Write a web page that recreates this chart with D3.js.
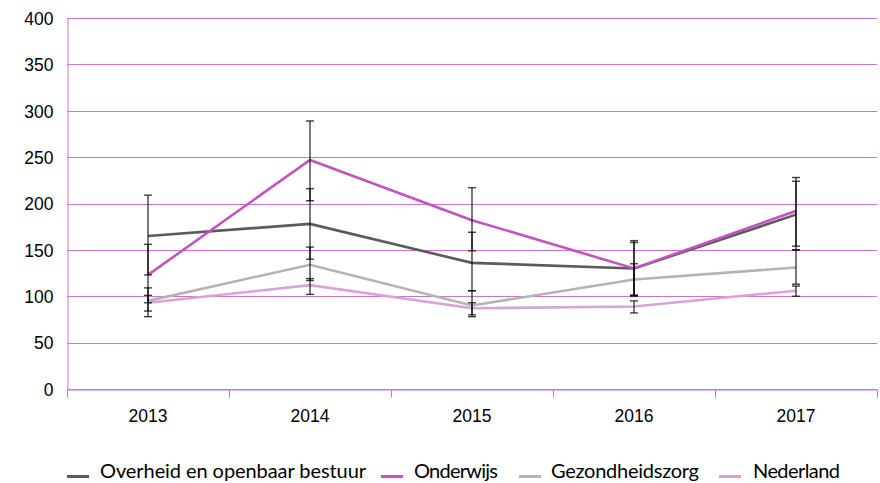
<!DOCTYPE html>
<html>
<head>
<meta charset="utf-8">
<script src="https://cdn.jsdelivr.net/npm/d3@7"></script>
<style>
  body { margin: 0; background: #fff; }
  .tick text { font-family: "Liberation Sans", Arial, sans-serif; font-size: 17.5px; fill: #000; }
  .legend text { font-family: Lato, "Open Sans", sans-serif; font-size: 20px; fill: #000; }
</style>
</head>
<body>
<script>
// data
var years = ["2013", "2014", "2015", "2016", "2017"];
var seriesNames = ["Overheid en openbaar bestuur", "Onderwijs", "Gezondheidszorg", "Nederland"];
var seriesColors = ["#5b5b5b", "#c452c0", "#b4b4b4", "#d9a3d7"];

var overheid = [165, 178, 136, 130, 188];
var onderwijs = [123, 247, 182, 130, 192];
var gezondheidszorg = [95, 134, 90, 118, 131];
var nederland = [93, 112, 87, 89, 106];

// error bar ranges (low, high)
var overheidLow = [123, 140, 106, 100, 150];
var overheidHigh = [209, 216, 169, 160, 224];
var onderwijsLow = [93, 203, 149, 101, 154];
var onderwijsHigh = [156, 289, 217, 158, 228];
var gezondheidszorgLow = [78, 117, 78, 101, 113];
var gezondheidszorgHigh = [109, 153, 106, 135, 150];
var nederlandLow = [84, 102, 80, 82, 100];
var nederlandHigh = [101, 119, 93, 95, 111];

var yTicks = [0, 50, 100, 150, 200, 250, 300, 350, 400];

var values = [overheid, onderwijs, gezondheidszorg, nederland];
var lows = [overheidLow, onderwijsLow, gezondheidszorgLow, nederlandLow];
var highs = [overheidHigh, onderwijsHigh, gezondheidszorgHigh, nederlandHigh];

var width = 880,
    height = 483;

var x = d3.scaleBand().domain(years).range([67, 877]);
var y = d3.scaleLinear().domain([0, 400]).range([389, 18]);

var svg = d3.select("body").append("svg")
    .attr("width", width)
    .attr("height", height);

var gridColor = "#cf72cc";

// horizontal grid lines
svg.append("g")
    .selectAll("line")
    .data(yTicks)
    .enter()
    .append("line")
    .attr("x1", 67)
    .attr("x2", 877)
    .attr("y1", d => Math.round(y(d)) + 0.5)
    .attr("y2", d => Math.round(y(d)) + 0.5)
    .attr("stroke", gridColor)
    .attr("stroke-width", 1);

// y axis
var yAxis = svg.append("g")
    .attr("transform", "translate(67.5,0)")
    .call(d3.axisLeft(y).tickValues(yTicks).tickSize(0).tickPadding(14));
yAxis.select(".domain").attr("stroke", gridColor);
yAxis.selectAll(".tick text").attr("dy", "0.36em");

// x axis with ticks between the categories
var xAxis = svg.append("g")
    .attr("transform", "translate(0," + (Math.round(y(0)) + 0.5) + ")")
    .call(d3.axisBottom(x).tickSize(0).tickPadding(20));
xAxis.select(".domain").attr("stroke", gridColor);
xAxis.selectAll(".tick text").attr("dy", "0.71em");

var bounds = x.domain().map(d => x(d)).concat([x.range()[1]]);
xAxis.selectAll(".sep")
    .data(bounds)
    .enter()
    .append("line")
    .attr("class", "sep")
    .attr("x1", d => Math.round(d) + 0.5)
    .attr("x2", d => Math.round(d) + 0.5)
    .attr("y1", 0)
    .attr("y2", 8)
    .attr("stroke", gridColor);

var cx = d => x(d) + x.bandwidth() / 2;

var line = d3.line()
    .x((d, i) => cx(years[i]))
    .y(d => y(d));

// series lines
svg.append("g")
    .selectAll("path")
    .data(values)
    .enter()
    .append("path")
    .attr("d", line)
    .attr("fill", "none")
    .attr("stroke", (d, i) => seriesColors[i])
    .attr("stroke-width", 2.6)
    .attr("stroke-linejoin", "miter");

// error bars
var bars = [];
lows.forEach(function (low, s) {
    low.forEach(function (v, i) {
        bars.push({ year: years[i], low: v, high: highs[s][i] });
    });
});

var eb = svg.append("g")
    .selectAll("g")
    .data(bars)
    .enter()
    .append("g")
    .attr("stroke", "#000")
    .attr("stroke-opacity", 0.75)
    .attr("stroke-width", 1.4);

eb.append("line")
    .attr("x1", d => cx(d.year))
    .attr("x2", d => cx(d.year))
    .attr("y1", d => y(d.low))
    .attr("y2", d => y(d.high));

eb.append("line")
    .attr("x1", d => cx(d.year) - 4)
    .attr("x2", d => cx(d.year) + 4)
    .attr("y1", d => y(d.low))
    .attr("y2", d => y(d.low));

eb.append("line")
    .attr("x1", d => cx(d.year) - 4)
    .attr("x2", d => cx(d.year) + 4)
    .attr("y1", d => y(d.high))
    .attr("y2", d => y(d.high));

// legend
var swatchX = [67, 381, 519, 719];
var labelX = [100, 414, 551, 753];
var labelW = [266, 84, 148, 87];

var legend = svg.append("g")
    .attr("class", "legend")
    .selectAll("g")
    .data(seriesNames)
    .enter()
    .append("g");

legend.append("line")
    .attr("x1", (d, i) => swatchX[i])
    .attr("x2", (d, i) => swatchX[i] + 22)
    .attr("y1", 476.5)
    .attr("y2", 476.5)
    .attr("stroke", (d, i) => seriesColors[i])
    .attr("stroke-width", 3);

legend.append("text")
    .attr("x", (d, i) => labelX[i])
    .attr("y", 478)
    .attr("textLength", (d, i) => labelW[i])
    .attr("lengthAdjust", "spacing")
    .text(d => d);
</script>
</body>
</html>
